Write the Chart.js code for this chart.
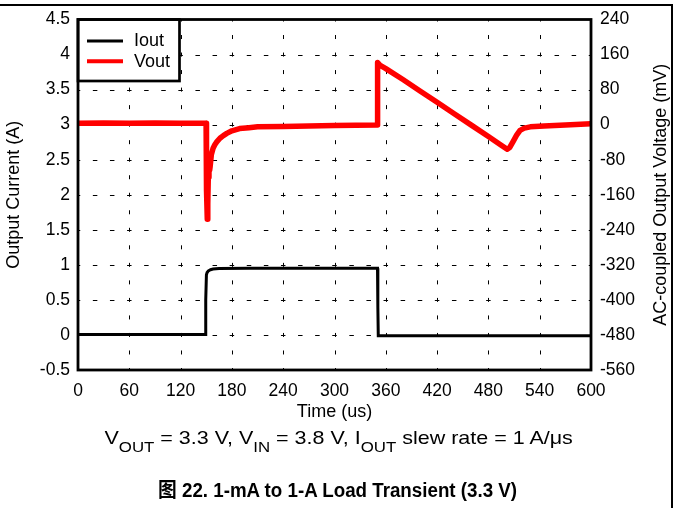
<!DOCTYPE html>
<html>
<head>
<meta charset="utf-8">
<script src="https://cdn.jsdelivr.net/npm/chart.js@4.4.1/dist/chart.umd.min.js"></script>
<style>
  html, body { margin:0; padding:0; background:#fff; }
  #wrap { position:relative; width:677px; height:508px; background:#fff; overflow:hidden; }
  #c { position:absolute; left:0; top:0; }
  .line { position:absolute; background:#000; }
  .cap { position:absolute; white-space:nowrap; color:#000; font-family:"Liberation Sans", Arial, "Noto Sans CJK SC", sans-serif; transform-origin:50% 50%; }
  #cap1 { font-size:18.5px; line-height:22px; top:427px; }
  #cap1 sub { font-size:14.5px; position:relative; top:8px; vertical-align:baseline; line-height:0; }
  #cap2 { font-size:20px; line-height:24px; font-weight:bold; top:478px; }
</style>
</head>
<body>
<div id="wrap">
  <canvas id="c" width="677" height="508"></canvas>
  <div class="line" style="left:0;top:4px;width:673px;height:2px;"></div>
  <div class="line" style="left:671px;top:4px;width:2px;height:504px;"></div>
  <div class="cap" id="cap1">V<sub>OUT</sub> = 3.3 V, V<sub>IN</sub> = 3.8 V, I<sub>OUT</sub> slew rate = 1 A/μs</div>
  <div class="cap" id="cap2">图 22. 1-mA to 1-A Load Transient (3.3 V)</div>
</div>
<script>
// ---- data (time in us) ----
const timeTicks = [0, 60, 120, 180, 240, 300, 360, 420, 480, 540, 600];
const currentTicks = [-0.5, 0, 0.5, 1, 1.5, 2, 2.5, 3, 3.5, 4, 4.5];
const voltageTicks = [-560, -480, -400, -320, -240, -160, -80, 0, 80, 160, 240];

const timeI = [0, 30, 60, 90, 120, 148.8, 149.4, 150.2, 151, 152.5, 155, 158, 165, 200, 250, 300, 350.3, 350.7, 351.2, 360, 400, 450, 500, 550, 600];
const iout  = [0.005, 0.005, 0.005, 0.005, 0.005, 0.005, 0.5, 0.86, 0.89, 0.915, 0.93, 0.94, 0.948, 0.952, 0.953, 0.952, 0.95, 0.4, -0.012, -0.012, -0.01, -0.01, -0.01, -0.01, -0.01];

const timeV = [0, 30, 60, 90, 120, 149.8, 150.3, 151.2, 151.8, 152.4, 153.2, 154, 154.6, 156, 158, 160, 162, 166, 170, 174, 180, 189, 200, 210, 240, 270, 300, 349.8,
               350.4, 353, 360, 380, 400, 420, 440, 460, 480, 495, 502, 505, 509, 513, 517, 522, 529, 545, 570, 600];
const vout  = [3, 4, 3, 4, 3, 3, -150, -216, -180, -120, -102, -104, -95, -68, -54, -46, -40, -31, -25, -20, -14, -9, -7, -5, -4, -3, -2, -1,
               142, 136, 128, 103, 77, 51, 25, -1, -27, -47, -56, -52, -38, -24, -13, -8, -5, -3, -1, 2];

const FONT = '"Liberation Sans", Arial, sans-serif';

const gridPlugin = {
  id: 'dashGrid',
  beforeDatasetsDraw(chart) {
    const {ctx, chartArea: a, scales} = chart;
    const sx = scales.x, sy = scales.y;
    const xs = timeTicks.map(v => sx.getPixelForValue(v));
    const ys = currentTicks.map(v => sy.getPixelForValue(v));
    const xPeriod = (xs[1] - xs[0]) / 3;
    const yPeriod = (ys[0] - ys[1]) / 2;
    ctx.save();
    ctx.strokeStyle = '#000';
    ctx.lineWidth = 1;
    // horizontal grid lines
    ctx.setLineDash([4.5, xPeriod - 4.5]);
    ctx.lineDashOffset = 2.25;
    for (let i = 1; i < ys.length - 1; i++) {
      const y = Math.round(ys[i]) + 0.5;
      ctx.beginPath();
      ctx.moveTo(a.left, y);
      ctx.lineTo(a.right, y);
      ctx.stroke();
    }
    // vertical grid lines
    ctx.setLineDash([4, yPeriod - 4]);
    ctx.lineDashOffset = 2;
    for (let i = 1; i < xs.length - 1; i++) {
      const x = Math.round(xs[i]) + 0.5;
      ctx.beginPath();
      ctx.moveTo(x, a.top);
      ctx.lineTo(x, a.bottom);
      ctx.stroke();
    }
    ctx.restore();
  }
};

const framePlugin = {
  id: 'frameLegend',
  afterDatasetsDraw(chart) {
    const {ctx, chartArea: a} = chart;
    ctx.save();
    ctx.setLineDash([]);
    // legend box
    const bx = a.left, by = a.top, bw = 101.5, bh = 61.5;
    ctx.fillStyle = '#fff';
    ctx.fillRect(bx, by, bw, bh);
    ctx.lineWidth = 2.7;
    ctx.strokeStyle = '#000';
    ctx.strokeRect(bx, by, bw, bh);
    const widths = [3, 4];
    chart.data.datasets.forEach((ds, i) => {
      const y = a.top + 21.4 + i * 20.3;
      ctx.beginPath();
      ctx.strokeStyle = ds.borderColor;
      ctx.lineWidth = widths[i];
      ctx.moveTo(a.left + 9, y);
      ctx.lineTo(a.left + 45, y);
      ctx.stroke();
      ctx.fillStyle = '#000';
      ctx.font = '18px ' + FONT;
      ctx.textAlign = 'left';
      ctx.textBaseline = 'middle';
      ctx.fillText(ds.label, a.left + 56, y + 0.5);
    });
    // plot frame
    ctx.lineWidth = 2.8;
    ctx.strokeStyle = '#000';
    ctx.strokeRect(a.left, a.top, a.right - a.left, a.bottom - a.top);
    // right axis title (reads bottom to top)
    ctx.save();
    ctx.translate(661, (a.top + a.bottom) / 2);
    ctx.rotate(-Math.PI / 2);
    ctx.fillStyle = '#000';
    ctx.font = '18px ' + FONT;
    ctx.textAlign = 'center';
    ctx.textBaseline = 'middle';
    ctx.fillText('AC-coupled Output Voltage (mV)', 0, 0);
    ctx.restore();
    ctx.restore();
  }
};

const tickFont = {family: FONT, size: 17.5};
const titleFont = {family: FONT, size: 18};

new Chart(document.getElementById('c'), {
  type: 'line',
  data: {
    datasets: [
      { label: 'Iout', data: timeI.map((t, i) => ({x: t, y: iout[i]})), borderColor: '#000', borderWidth: 3,
        yAxisID: 'y', pointRadius: 0, tension: 0, fill: false },
      { label: 'Vout', data: timeV.map((t, i) => ({x: t, y: vout[i]})), borderColor: '#ff0000', borderWidth: 5.5,
        yAxisID: 'y1', pointRadius: 0, tension: 0, fill: false, borderJoinStyle: 'round' }
    ]
  },
  options: {
    responsive: false,
    animation: false,
    devicePixelRatio: 1,
    layout: { padding: { top: 19, left: 0, right: 0, bottom: 81 } },
    plugins: { legend: { display: false }, tooltip: { enabled: false } },
    scales: {
      x: {
        type: 'linear', min: 0, max: 600,
        afterBuildTicks: s => { s.ticks = timeTicks.map(v => ({value: v})); },
        afterFit: s => { s.height = 57; },
        grid: { display: false, drawTicks: false },
        border: { display: false },
        ticks: { font: tickFont, color: '#000', padding: 11, maxRotation: 0, autoSkip: false, callback: v => String(v) },
        title: { display: true, text: 'Time (us)', font: titleFont, color: '#000', padding: { top: 4, bottom: 4 } }
      },
      y: {
        type: 'linear', position: 'left', min: -0.5, max: 4.5,
        afterBuildTicks: s => { s.ticks = currentTicks.map(v => ({value: v})); },
        afterFit: s => { s.width = 78; },
        grid: { display: false, drawTicks: false },
        border: { display: false },
        ticks: { font: tickFont, color: '#000', padding: 8, autoSkip: false, callback: v => String(v) },
        title: { display: true, text: 'Output Current (A)', font: titleFont, color: '#000', padding: { top: 3, bottom: 3 } }
      },
      y1: {
        type: 'linear', position: 'right', min: -560, max: 240,
        afterBuildTicks: s => { s.ticks = voltageTicks.map(v => ({value: v})); },
        afterFit: s => { s.width = 86; },
        grid: { display: false, drawTicks: false },
        border: { display: false },
        ticks: { font: tickFont, color: '#000', padding: 9, autoSkip: false, callback: v => String(v) }
      }
    }
  },
  plugins: [gridPlugin, framePlugin]
});

// fit captions to reference widths
function fitCap(id, cx, targetW) {
  const el = document.getElementById(id);
  const w = el.offsetWidth;
  el.style.left = (cx - w / 2) + 'px';
  el.style.transform = 'scaleX(' + (targetW / w) + ')';
}
fitCap('cap1', 338, 468);
fitCap('cap2', 337.5, 359);
</script>
</body>
</html>
